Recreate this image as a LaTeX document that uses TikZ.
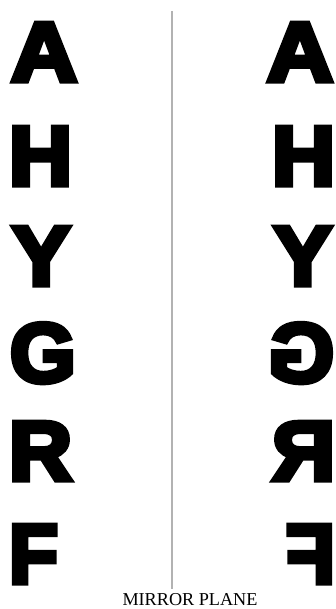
\documentclass[tikz,border=0pt]{standalone}
\usepackage{fontspec}
\setmainfont{Liberation Serif}
\newfontfamily\heavy{Liberation Sans Bold}[FakeBold=6]
\begin{document}
\begin{tikzpicture}[x=1pt,y=-1pt,
  letter/.style={inner sep=0pt,outer sep=0pt,anchor=base west,
    font=\heavy\fontsize{84}{84}\selectfont, xscale=1.04},
  mirrorline/.style={draw=black!30,line width=1.6pt}]
\useasboundingbox (0,0) rectangle (335,609);
\newcommand\lettercolumn{%
  \node[letter,xscale=1.05] (A) at (11,81) {A};
  \node[letter] (H) at (9,185) {H};
  \node[letter] (Y) at (12,285) {Y};
  \node[letter,xscale=0.97] (G) at (10,382) {G};
  \node[letter] (R) at (9,480) {R};
  \node[letter,xscale=0.92] (F) at (9,583) {F};
}
\lettercolumn
\begin{scope}[shift={(344,0)},xscale=-1,transform shape]
\lettercolumn
\end{scope}
\coordinate (top) at (172,11);
\coordinate (bot) at (172,589);
\draw[mirrorline] (top) -- (bot);
\node[inner sep=0pt,anchor=base,font=\fontsize{18.2}{18.2}\selectfont] (label) at (190,605.5) {MIRROR PLANE};
\end{tikzpicture}
\end{document}
